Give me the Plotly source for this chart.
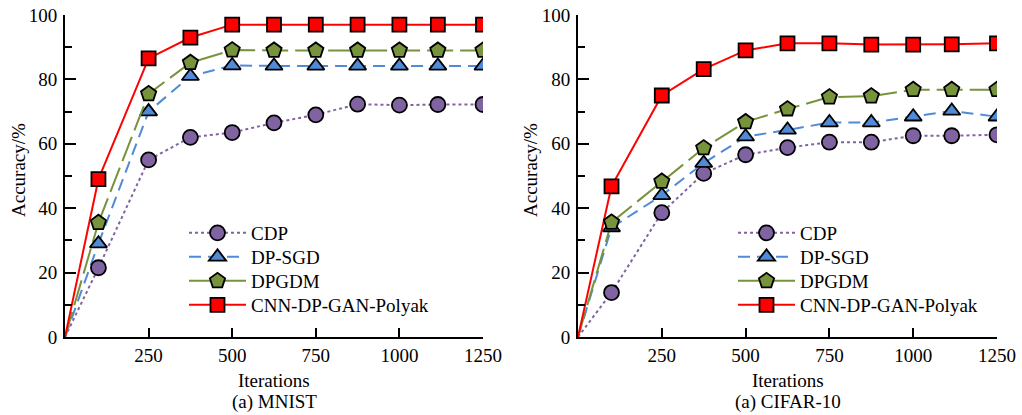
import plotly.graph_objects as go

# ---------------- data ----------------
iterations = [0, 100, 250, 375, 500, 625, 750, 875, 1000, 1115, 1250]
series_names = ["CDP", "DP-SGD", "DPGDM", "CNN-DP-GAN-Polyak"]

mnist_cdp = [0, 21.5, 55, 62, 63.5, 66.5, 69, 72.3, 72, 72.2, 72.2]
mnist_dpsgd = [0, 29, 70, 81, 84.3, 84.2, 84.2, 84.2, 84.2, 84.2, 84.2]
mnist_dpgdm = [0, 35.5, 75.5, 85.2, 89.1, 89, 89, 89, 89, 89, 89]
mnist_cnn = [0, 49, 86.5, 93, 97, 97, 97, 97, 97, 97, 97]

cifar_cdp = [0, 13.8, 38.6, 50.8, 56.6, 58.8, 60.5, 60.5, 62.5, 62.5, 62.8]
cifar_dpsgd = [0, 34, 44, 54, 62.2, 64.3, 66.6, 66.6, 68.4, 70.2, 68.4]
cifar_dpgdm = [0, 35.6, 48.3, 58.7, 66.8, 70.8, 74.5, 74.8, 76.8, 76.8, 76.8]
cifar_cnn = [0, 46.8, 75, 83.2, 89, 91.2, 91.2, 90.8, 90.8, 90.9, 91.2]

x_ticks = [250, 500, 750, 1000, 1250]
captions = ["(a) MNIST", "(a) CIFAR-10"]

# ---------------- styles ----------------
FONT = "Liberation Serif"
FS = 19
colors = ["#8064A2", "#4F8BD6", "#77933C", "#FF0000"]
dashes = ["3px,3px", "12px,7px", "26px,7px", "solid"]
symbols = ["circle", "triangle-up", "pentagon", "square"]
msizes = [15, 15, 16, 14]
lwidths = [2, 2, 2, 2]

W, H = 1022, 415
def px_x(p): return p / W
def px_y(p): return 1 - p / H

dom1 = [px_x(65), px_x(483)]
dom2 = [px_x(578), px_x(997)]
ydom = [px_y(337), px_y(15)]

legend_rows = [233, 257, 281, 305]
legend_x = [184, 733]

fig = go.Figure()

datasets = [
    ("x", "y", [mnist_cdp, mnist_dpsgd, mnist_dpgdm, mnist_cnn]),
    ("x2", "y2", [cifar_cdp, cifar_dpsgd, cifar_dpgdm, cifar_cnn]),
]

legend_layout = {}
lg_idx = 1
for d, (xa, ya, ys) in enumerate(datasets):
    for i, name in enumerate(series_names):
        yv = ys[i]
        # segment from origin to first measured point (no marker)
        fig.add_trace(go.Scatter(
            x=iterations[:2], y=yv[:2], mode="lines", xaxis=xa, yaxis=ya,
            line=dict(color=colors[i], width=lwidths[i], dash=dashes[i]),
            showlegend=False, hoverinfo="skip"))
    for i, name in enumerate(series_names):
        yv = ys[i]
        lg = "legend" if lg_idx == 1 else f"legend{lg_idx}"
        fig.add_trace(go.Scatter(
            x=iterations[1:], y=yv[1:], mode="lines+markers", name=name,
            xaxis=xa, yaxis=ya, legend=lg,
            line=dict(color=colors[i], width=lwidths[i], dash=dashes[i]),
            marker=dict(symbol=symbols[i], size=msizes[i], color=colors[i],
                        line=dict(color="black", width=1.8))))
        legend_layout[lg] = dict(
            x=px_x(legend_x[d]), y=px_y(legend_rows[i]),
            xanchor="left", yanchor="middle", itemwidth=57,
            font=dict(family=FONT, size=FS, color="black"),
            bgcolor="rgba(0,0,0,0)", borderwidth=0)
        lg_idx += 1

axis_common = dict(showgrid=False, zeroline=False, showline=True,
                   linecolor="black", linewidth=2, ticks="inside",
                   tickcolor="black", tickwidth=2, automargin=False,
                   tickfont=dict(family=FONT, size=FS, color="black"))

xaxis_cfg = dict(range=[0, 1250], tickvals=x_ticks, ticklen=9,
                 ticklabelstandoff=0, **axis_common)
yaxis_cfg = dict(range=[0, 100], dtick=20, ticklen=11,
                 minor=dict(dtick=10, ticks="inside", ticklen=7,
                            tickcolor="black", tickwidth=2),
                 ticklabelstandoff=2, **axis_common)

annotations = []
for dom, cap in zip([dom1, dom2], captions):
    cx = (dom[0] + dom[1]) / 2
    annotations.append(dict(x=cx, y=px_y(380), xref="paper", yref="paper",
                            xanchor="center", yanchor="middle",
                            text="Iterations", showarrow=False,
                            font=dict(family=FONT, size=FS, color="black")))
    annotations.append(dict(x=cx, y=px_y(402), xref="paper", yref="paper",
                            xanchor="center", yanchor="middle",
                            text=cap, showarrow=False,
                            font=dict(family=FONT, size=FS, color="black")))
for xp in [18, 530]:
    annotations.append(dict(x=px_x(xp), y=px_y(170), xref="paper", yref="paper",
                            xanchor="center", yanchor="middle",
                            text="Accuracy/%", showarrow=False, textangle=-90,
                            font=dict(family=FONT, size=FS, color="black")))

fig.update_layout(
    template="none",
    width=W, height=H, margin=dict(l=0, r=0, t=0, b=0, autoexpand=False),
    paper_bgcolor="white", plot_bgcolor="white",
    xaxis=dict(domain=dom1, anchor="y", **xaxis_cfg),
    yaxis=dict(domain=ydom, anchor="x", **yaxis_cfg),
    xaxis2=dict(domain=dom2, anchor="y2", **xaxis_cfg),
    yaxis2=dict(domain=ydom, anchor="x2", **yaxis_cfg),
    annotations=annotations,
    **legend_layout,
)

fig.write_html("out.html", config={"displayModeBar": False},
               post_script="document.body.style.margin='0px';"
                           "document.body.style.overflow='hidden';")
